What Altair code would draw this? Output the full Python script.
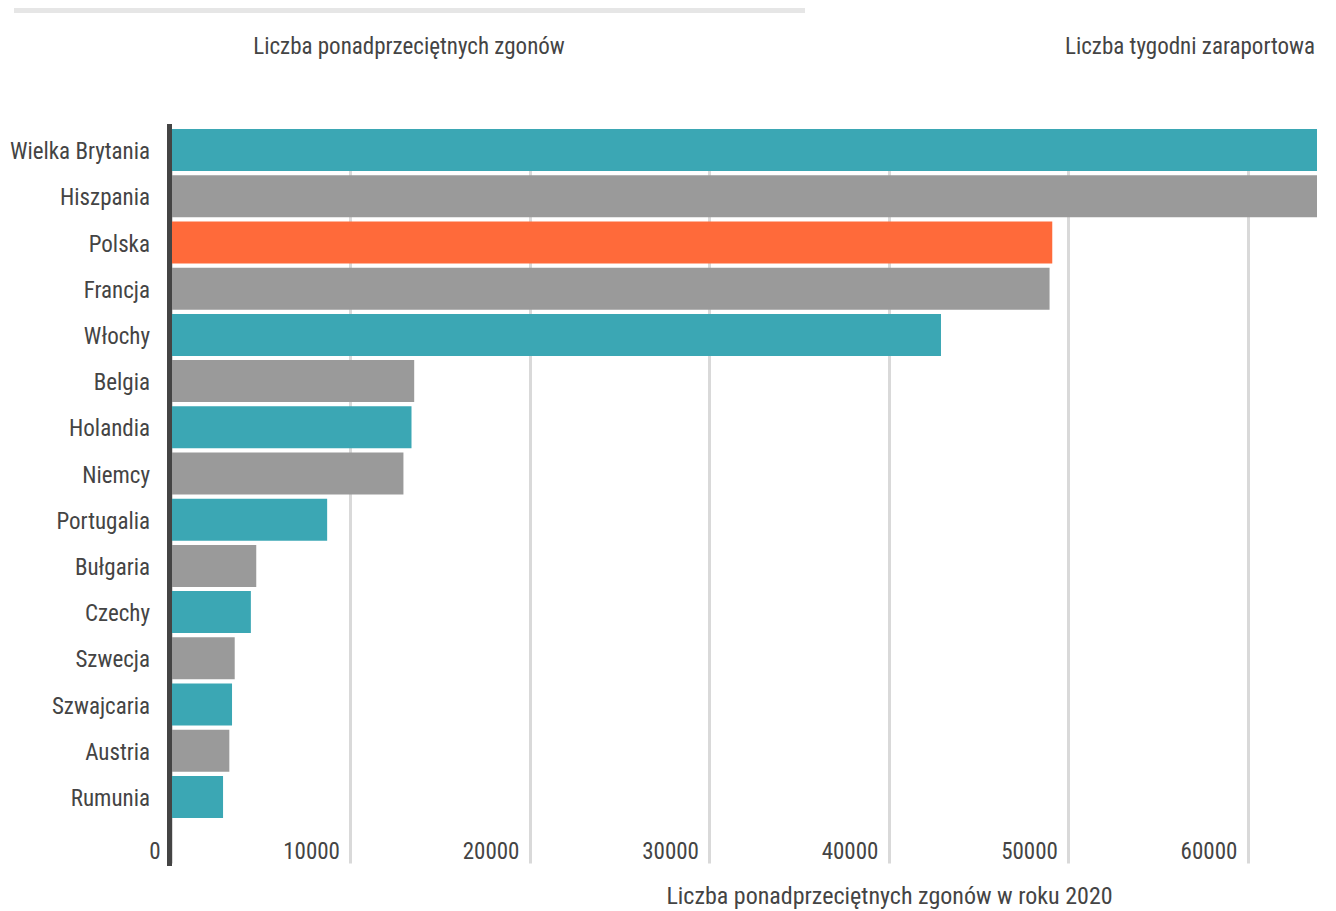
import altair as alt
import pandas as pd

kraje = ["Wielka Brytania", "Hiszpania", "Polska", "Francja", "Włochy", "Belgia",
         "Holandia", "Niemcy", "Portugalia", "Bułgaria", "Czechy", "Szwecja",
         "Szwajcaria", "Austria", "Rumunia"]
zgony = [75000, 69000, 49100, 48950, 42900, 13550, 13400, 12950, 8700, 4750,
         4450, 3550, 3400, 3250, 2900]
grupa = ["a", "b", "pl", "b", "a", "b", "a", "b", "a", "b", "a", "b", "a", "b", "a"]

naglowki = ["Liczba ponadprzeciętnych zgonów",
            "Liczba tygodni zaraportowanych ponadprzeciętnych zgonów"]
tytul_osi = "Liczba ponadprzeciętnych zgonów w roku 2020"

FONT = "'Noto Sans Condensed', 'Liberation Sans Narrow', 'Roboto Condensed', Roboto, sans-serif"
TXT = "#444444"

df = pd.DataFrame({"kraj": kraje, "zgony": zgony, "grupa": grupa})

bars = alt.Chart(df).mark_bar(clip=True).encode(
    y=alt.Y("kraj:N", sort=kraje, title=None,
            scale=alt.Scale(range=[3, 696], paddingInner=0.091, paddingOuter=0.0455),
            axis=alt.Axis(domain=False, ticks=False, tickSize=0, labelPadding=20,
                          labelOffset=2, offset=1.5, labelFontSize=23,
                          labelColor=TXT, labelFont=FONT, grid=False)),
    x=alt.X("zgony:Q", title=tytul_osi,
            scale=alt.Scale(domain=[0, 63850], nice=False),
            axis=alt.Axis(values=[0, 10000, 20000, 30000, 40000, 50000, 60000],
                          format="d", domain=False, ticks=False, tickSize=0,
                          grid=True, gridColor="#d9d9d9", gridWidth=3,
                          labelAlign="right", labelOffset=-11, labelPadding=-8,
                          labelBaseline="alphabetic", labelFlush=False,
                          labelOverlap=False, labelFontSize=23, labelColor=TXT,
                          labelFont=FONT,
                          titleX=718, titleY=37, titleAlign="center",
                          titleBaseline="alphabetic", titleFontSize=24,
                          titleFontWeight="normal", titleColor=TXT,
                          titleFont=FONT)),
    color=alt.Color("grupa:N", legend=None,
                    scale=alt.Scale(domain=["a", "b", "pl"],
                                    range=["#3ba7b4", "#9a9a9a", "#ff6a3a"])),
)

os_y = alt.Chart(pd.DataFrame({"k": [0]})).mark_rule(
    color="#444444", strokeWidth=5
).encode(x=alt.value(-1.5), y=alt.value(0), y2=alt.value(742))

pasek = alt.Chart(pd.DataFrame({"k": [0]})).mark_rect(color="#e6e6e6").encode(
    x=alt.value(-157), x2=alt.value(634), y=alt.value(-118), y2=alt.value(-111)
)

h1 = alt.Chart(pd.DataFrame({"t": [naglowki[0]]})).mark_text(
    align="center", baseline="alphabetic", fontSize=23, font=FONT, color=TXT
).encode(x=alt.value(238), y=alt.value(-70), text="t:N")

h2 = alt.Chart(pd.DataFrame({"t": [naglowki[1]]})).mark_text(
    align="left", baseline="alphabetic", fontSize=23, font=FONT, color=TXT,
    limit=252, ellipsis="\u200b"
).encode(x=alt.value(894), y=alt.value(-70), text="t:N")

chart = alt.layer(bars, os_y, pasek, h1, h2).properties(
    width=1146, height=742,
    autosize=alt.AutoSizeParams(type="none"),
    padding={"left": 163, "top": 116, "right": 0, "bottom": 45},
).configure(font=FONT).configure_view(strokeWidth=0, stroke="transparent")

chart.save("out.html", embed_options={"renderer": "svg", "actions": False})
